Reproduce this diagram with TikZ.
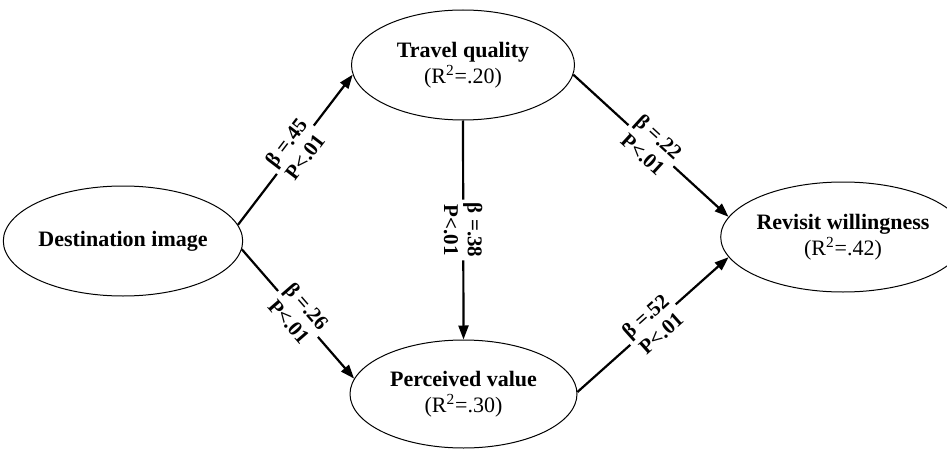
\documentclass[tikz,border=0pt]{standalone}
\usepackage{fontspec}
\setmainfont{Liberation Serif}
\usepackage{tikz}
\usetikzlibrary{arrows.meta,shapes.geometric}

\begin{document}
\begin{tikzpicture}[x=0.5pt,y=-0.5pt,
  construct/.style={draw,ellipse,line width=0.5pt,minimum width=113pt,minimum height=55pt,inner sep=0pt,align=center,font=\fontsize{11}{13}\selectfont},
  effect/.style={line width=1.1pt,-{Triangle[length=7pt,width=5pt]}},
  coef/.style={fill=white,sloped,midway,inner sep=1.5pt,align=center,font=\bfseries\fontsize{10.5}{11.8}\selectfont}]
\useasboundingbox (0,0) rectangle (947,449);
\node[construct] (dest) at (123,241) {\textbf{Destination image}};
\node[construct,minimum width=111.5pt] (travel) at (463,65) {\textbf{Travel quality}\\(R\textsuperscript{2}=.20)};
\node[construct,minimum width=113.5pt,minimum height=54pt] (perceived) at (463.5,394) {\textbf{Perceived value}\\(R\textsuperscript{2}=.30)};
\node[construct,minimum width=110pt] (revisit) at (843,237) {\textbf{Revisit willingness}\\(R\textsuperscript{2}=.42)};
\draw[effect] (dest.8) -- node[coef] {β =.45\\P<.01} (travel.185);
\draw[effect] (dest.-4) -- node[coef] {β =.26\\P<.01} (perceived.172);
\draw[effect] (travel.south) -- node[coef] {β =.38\\P<.01} (perceived.north);
\draw[effect] (travel.-5) -- node[coef] {β =.22\\P<.01} (revisit.170);
\draw[effect] (perceived.1) -- node[coef] {β =.52\\P<.01} (revisit.190);
\end{tikzpicture}
\end{document}
